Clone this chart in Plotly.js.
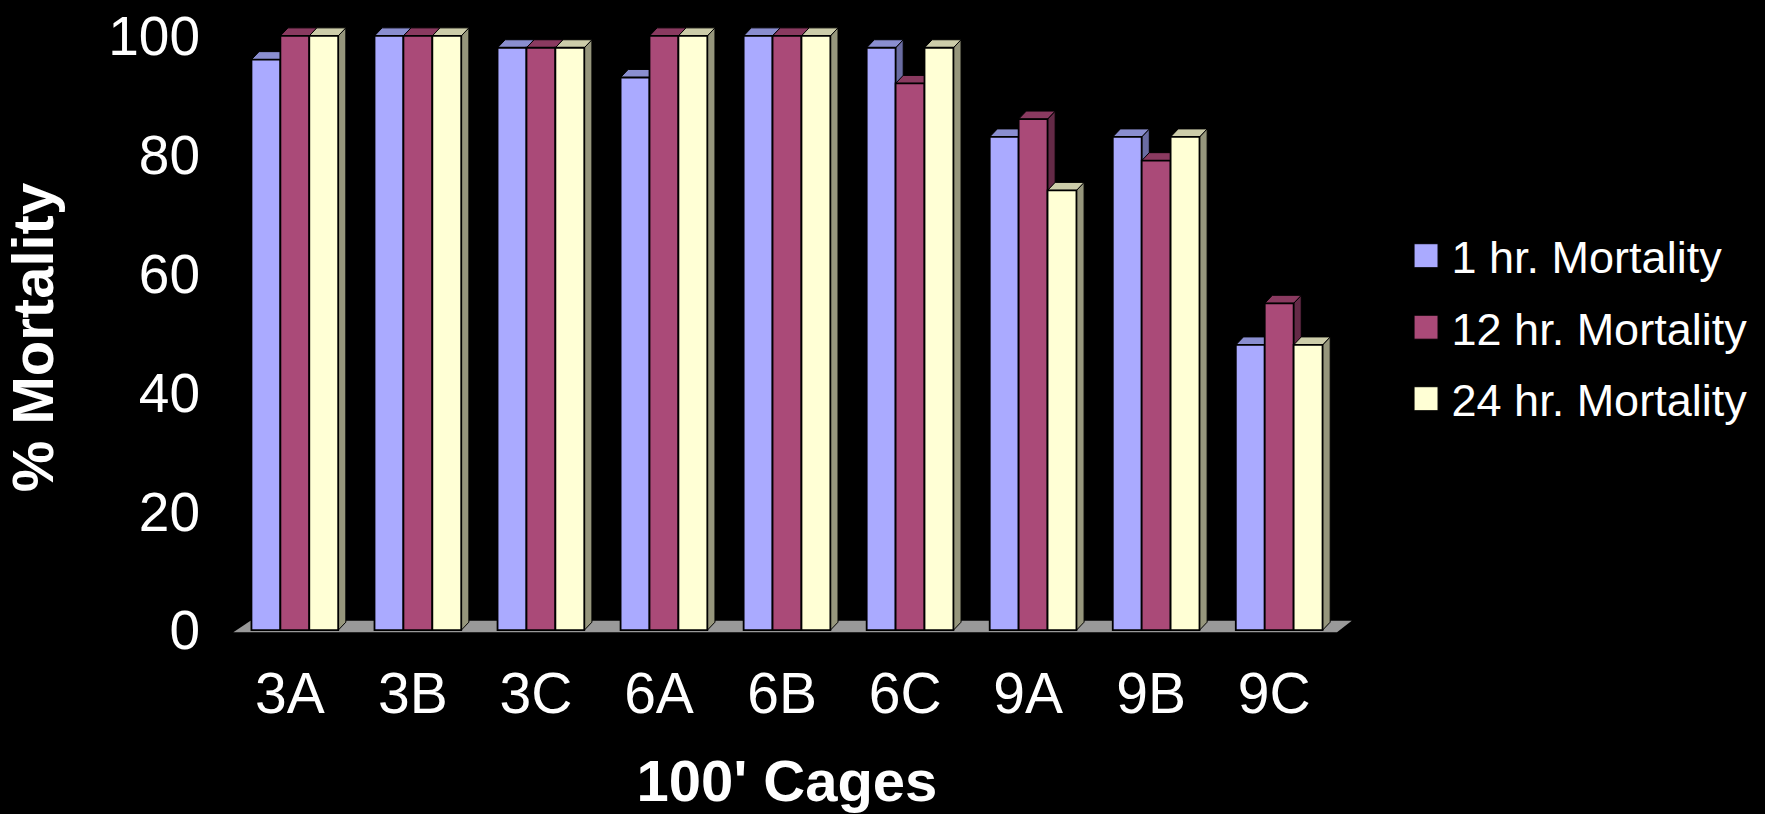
<!DOCTYPE html>
<html>
<head>
<meta charset="utf-8">
<script src="https://cdn.plot.ly/plotly-3.0.1.min.js"></script>
<style>
html,body{margin:0;padding:0;background:#000;}
#chart{width:1765px;height:814px;}
</style>
</head>
<body>
<div id="chart"></div>
<script>
// ---- data ----
var categories = ['3A', '3B', '3C', '6A', '6B', '6C', '9A', '9B', '9C'];
var seriesNames = ['1 hr. Mortality', '12 hr. Mortality', '24 hr. Mortality'];
var mort1hr  = [96, 100, 98, 93, 100, 98, 83, 83, 48];
var mort12hr = [100, 100, 98, 100, 100, 92, 86, 79, 55];
var mort24hr = [100, 100, 98, 100, 100, 98, 74, 83, 48];
var yTicks = [0, 20, 40, 60, 80, 100];

// ---- styling ----
var frontColors = ['#AAAAFF', '#AA4A78', '#FFFFD5'];
var topColors   = ['#8A8ED0', '#8A3A60', '#CDCDAA'];
var sideColors  = ['#6A6CA2', '#642A47', '#96967C'];
var W = 0.235;      // bar width (category units)
var DX = 0.062;     // depth offset x (category units)
var DY = 1.35;      // depth offset y (value units)
var FONT = 'Liberation Sans, Arial, sans-serif';

var seriesVals = [mort1hr, mort12hr, mort24hr];
var idx = categories.map(function (c, i) { return i; });

var traces = [];

// floor
traces.push({
  type: 'scatter', mode: 'lines', xaxis: 'x', yaxis: 'y',
  x: [-0.5, 8.47, 8.59, -0.36, -0.5],
  y: [-0.35, -0.35, 1.6, 1.6, -0.35],
  fill: 'toself', fillcolor: '#999999', line: {width: 0, color: '#999999'},
  hoverinfo: 'skip', showlegend: false
});

function offsetFor(s) { return -1.5 * W + s * W; }

// side faces
seriesVals.forEach(function (vals, s) {
  var xs = [], ys = [];
  vals.forEach(function (v, i) {
    var r = i + offsetFor(s) + W;
    xs.push(r, r + DX, r + DX, r, r, null);
    ys.push(0, DY, v + DY, v, 0, null);
  });
  traces.push({
    type: 'scatter', mode: 'lines', xaxis: 'x', yaxis: 'y',
    x: xs, y: ys, fill: 'toself', fillcolor: sideColors[s],
    line: {width: 1, color: '#000'}, hoverinfo: 'skip', showlegend: false
  });
});
// top faces
seriesVals.forEach(function (vals, s) {
  var xs = [], ys = [];
  vals.forEach(function (v, i) {
    var l = i + offsetFor(s), r = l + W;
    xs.push(l, l + DX, r + DX, r, l, null);
    ys.push(v, v + DY, v + DY, v, v, null);
  });
  traces.push({
    type: 'scatter', mode: 'lines', xaxis: 'x', yaxis: 'y',
    x: xs, y: ys, fill: 'toself', fillcolor: topColors[s],
    line: {width: 1, color: '#000'}, hoverinfo: 'skip', showlegend: false
  });
});
// front faces (bars) on overlay axes so they sit above the 3D faces
seriesVals.forEach(function (vals, s) {
  traces.push({
    type: 'bar', name: seriesNames[s], xaxis: 'x2', yaxis: 'y2',
    x: idx, y: vals, width: W, offset: offsetFor(s),
    legendgroup: 'g' + s,
    marker: {color: frontColors[s], line: {color: '#000', width: 1.8}}
  });
});

var xRange = [-0.6, 8.6];
var yRange = [-3.5, 102];

var layout = {
  width: 1765, height: 814,
  paper_bgcolor: '#000', plot_bgcolor: 'rgba(0,0,0,0)',
  font: {family: FONT, color: '#fff', size: 57},
  margin: {l: 221, r: 412, t: 24, b: 163},
  barmode: 'overlay',
  showlegend: true,
  xaxis: {
    range: xRange, tickvals: idx.map(function (i) { return i - 0.04; }), ticktext: categories,
    showgrid: false, zeroline: false, showline: false, ticks: '',
    tickfont: {size: 57, color: '#fff', family: FONT},
    ticklabelstandoff: 4,
    title: {text: "<b>100' Cages</b>", font: {size: 58, color: '#fff', family: FONT}, standoff: 36}
  },
  yaxis: {
    range: yRange, tickvals: yTicks, ticktext: yTicks.map(String),
    showgrid: false, zeroline: false, showline: false, ticks: '',
    tickfont: {size: 55, color: '#fff', family: FONT},
    ticklabelstandoff: 20,
    title: {text: '<b>% Mortality</b>', font: {size: 58, color: '#fff', family: FONT}, standoff: 40}
  },
  xaxis2: {range: xRange, overlaying: 'x', visible: false},
  yaxis2: {range: yRange, overlaying: 'y', visible: false},
  legend: {
    x: 1.042, xanchor: 'left', y: 0.516, yanchor: 'middle',
    traceorder: 'grouped', tracegroupgap: 10, itemwidth: 41,
    font: {size: 45, color: '#fff', family: FONT},
    bgcolor: 'rgba(0,0,0,0)'
  }
};

Plotly.newPlot('chart', traces, layout, {displayModeBar: false, staticPlot: true}).then(function () {
  var pts = document.querySelectorAll('.legend .legendpoints path');
  pts.forEach(function (p) {
    p.setAttribute('d', 'M12,12H-12V-12H12Z');
    p.style.strokeWidth = '1px';
  });
});
</script>
</body>
</html>
